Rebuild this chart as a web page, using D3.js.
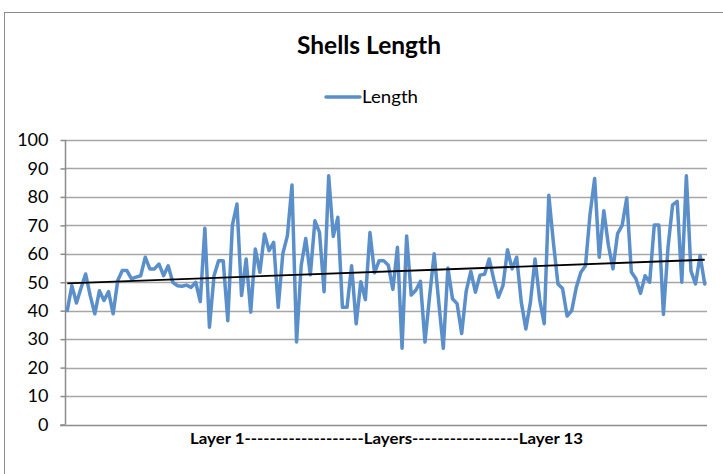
<!DOCTYPE html>
<html>
<head>
<meta charset="utf-8">
<script src="https://cdn.jsdelivr.net/npm/d3@7"></script>
<style>
  html, body { margin: 0; padding: 0; background: #fff; }
  svg { display: block; }
</style>
</head>
<body>
<svg id="chart" width="723" height="474"></svg>
<script>
const title = "Shells Length";
const seriesName = "Length";
const xAxisTitle = "Layer 1-------------------Layers-----------------Layer 13";
const yTicks = [0, 10, 20, 30, 40, 50, 60, 70, 80, 90, 100];
const lengthValues = [
  40.1, 48.8, 42.7, 48, 52.9, 45.3, 38.9, 47, 43.6, 46.7,
  38.9, 50.6, 54.1, 54.1, 51.2, 51.8, 52.3, 58.8, 54.7, 54.7,
  56.4, 52.3, 55.8, 50, 48.8, 48.6, 49, 48.2, 50, 43.2,
  69, 34.2, 52.3, 57.6, 57.6, 36.5, 70.1, 77.5, 45.3, 58.2,
  39.5, 61.7, 53.5, 67, 61.1, 64, 41.2, 60, 66.4, 84.2,
  29, 55.8, 65.4, 52.6, 71.6, 67.5, 46.7, 87.4, 66.1, 72.8,
  41.2, 41.2, 55.8, 35.4, 50.2, 43.9, 67.5, 53.3, 57.6, 57.6,
  56, 47.5, 62.3, 26.8, 66.3, 45.5, 47.2, 50.3, 29, 45,
  60, 43, 26.8, 55, 44.2, 42.5, 32, 47, 53.8, 46.5,
  52.5, 52.8, 58.2, 51, 44.7, 48.8, 61.4, 54.7, 58.8, 43,
  33.6, 43, 58.2, 44, 35.4, 80.6, 64, 49.4, 47.8, 38.1,
  40, 48.2, 53.5, 55.8, 74, 86.5, 58.8, 75.1, 63, 54.7,
  67.1, 70, 79.6, 53.6, 51.2, 46.1, 52.3, 50, 70.1, 70.1,
  38.7, 62.3, 77.2, 78.4, 50, 87.4, 54, 49.4, 59.4, 49.4
];

const svg = d3.select("#chart");
const font = "Lato, 'Open Sans', sans-serif";

// chart border
svg.append("rect").attr("x", 4.5).attr("y", 12.5).attr("width", 760).attr("height", 500)
  .attr("fill", "#fff").attr("stroke", "#8c8c8c").attr("stroke-width", 1);

const plot = { left: 65, right: 707, top: 140, bottom: 424.5 };
const idx = d3.range(lengthValues.length);
const x = d3.scaleBand().domain(idx).range([plot.left, plot.right]).padding(0);
const cx = i => x(i) + x.bandwidth() / 2;
const y = d3.scaleLinear().domain([0, 100]).range([plot.bottom, plot.top]);

// gridlines
svg.append("g").selectAll("line").data(yTicks.filter(t => t > 0)).join("line")
  .attr("x1", plot.left).attr("x2", plot.right)
  .attr("y1", d => Math.round(y(d)) + 0.5).attr("y2", d => Math.round(y(d)) + 0.5)
  .attr("stroke", "#a6a6a6").attr("stroke-width", 1.5);

// y axis
const yAxis = d3.axisLeft(y).tickValues(yTicks).tickSize(5).tickPadding(12)
  .tickFormat(d3.format("d"));
const gy = svg.append("g").attr("transform", `translate(${plot.left + 0.5},0)`).call(yAxis);
gy.select(".domain").attr("stroke", "#8c8c8c").attr("stroke-width", 1.5).attr("d", `M0,${plot.top}V${plot.bottom}`);
gy.selectAll(".tick line").attr("stroke", "#8c8c8c").attr("stroke-width", 1.5);
gy.selectAll(".tick text").attr("font-family", font).attr("font-size", 18).attr("fill", "#000");

// x axis line
const xAxis = d3.axisBottom(x).tickValues([]).tickSize(0);
const gx = svg.append("g").attr("transform", `translate(0,${Math.round(plot.bottom) + 0.5})`).call(xAxis);
gx.select(".domain").attr("stroke", "#8c8c8c").attr("stroke-width", 1.5).attr("d", `M${plot.left - 5},0H${plot.right}`);

// series line
const line = d3.line().x((d, i) => cx(i)).y(d => y(d));
svg.append("path").datum(lengthValues).attr("d", line)
  .attr("fill", "none").attr("stroke", "#5b8fc9").attr("stroke-width", 3.5)
  .attr("stroke-linejoin", "round").attr("stroke-linecap", "round");

// linear trendline (least squares)
const n = lengthValues.length;
const xs = idx.map(i => i + 1);
const mx = d3.mean(xs), my = d3.mean(lengthValues);
const slope = d3.sum(xs, (v, k) => (v - mx) * (lengthValues[k] - my)) / d3.sum(xs, v => (v - mx) * (v - mx));
const icpt = my - slope * mx;
const trend = [[0, icpt + slope * 1], [n - 1, icpt + slope * n]];
svg.append("path").datum(trend)
  .attr("d", d3.line().x(d => cx(d[0])).y(d => y(d[1])))
  .attr("fill", "none").attr("stroke", "#000").attr("stroke-width", 1.8);

// title
svg.append("text").attr("x", 369).attr("y", 54).attr("text-anchor", "middle")
  .attr("font-family", font).attr("font-weight", "bold").attr("font-size", 24)
  .attr("textLength", 144).attr("lengthAdjust", "spacingAndGlyphs")
  .attr("fill", "#000").text(title);

// legend
svg.append("line").attr("x1", 326).attr("x2", 360).attr("y1", 97).attr("y2", 97)
  .attr("stroke", "#5b8fc9").attr("stroke-width", 3.5).attr("stroke-linecap", "round");
svg.append("text").attr("x", 362).attr("y", 103).attr("font-family", font)
  .attr("font-size", 18).attr("textLength", 56).attr("lengthAdjust", "spacingAndGlyphs")
  .attr("fill", "#000").text(seriesName);

// x axis title
svg.append("text").attr("x", 386.5).attr("y", 444).attr("text-anchor", "middle")
  .attr("font-family", font).attr("font-weight", "bold").attr("font-size", 15.5)
  .attr("textLength", 393).attr("lengthAdjust", "spacingAndGlyphs")
  .attr("fill", "#000").text(xAxisTitle);
</script>
</body>
</html>
